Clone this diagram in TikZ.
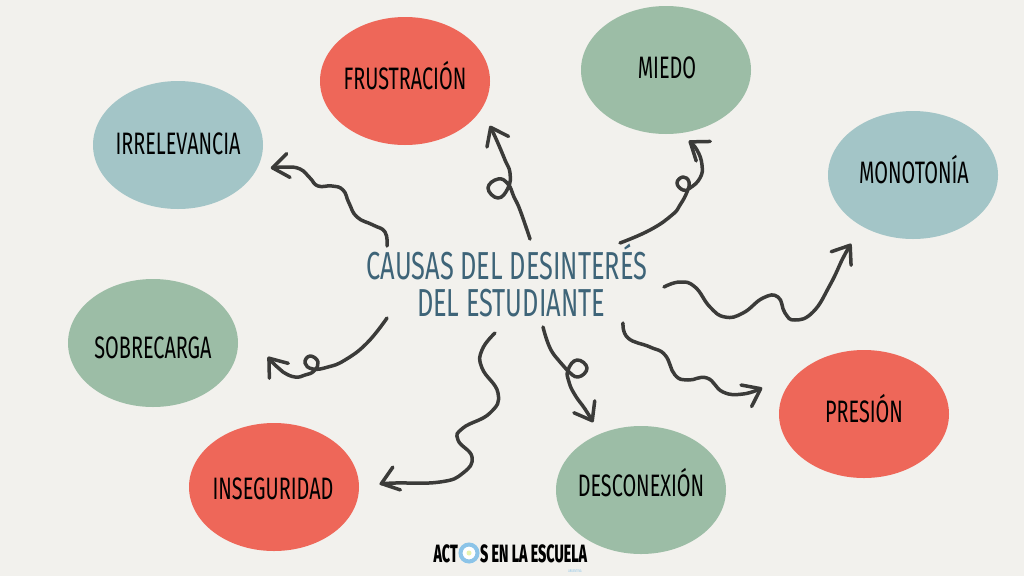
\documentclass[tikz,border=0pt]{standalone}
\usepackage{fontspec}
\usepackage{tikz}
\usetikzlibrary{arrows.meta}
\usetikzlibrary{shapes.geometric}
\newfontfamily\rotulo[FakeStretch=0.64]{Fira Sans}
\newfontfamily\titulo[FakeStretch=0.65]{Fira Sans}
\newfontfamily\marca[FakeStretch=0.57]{Fira Sans ExtraBold}
\definecolor{fondo}{HTML}{F2F1ED}
\definecolor{mrojo}{HTML}{EE6759}
\definecolor{mverde}{HTML}{9CBDA6}
\definecolor{mazul}{HTML}{A3C5C7}
\definecolor{mtitulo}{HTML}{3E6478}
\definecolor{mtrazo}{HTML}{3B3B39}
\definecolor{mcielo}{HTML}{8CC4E8}
\pgfdeclarearrow{name = Barba,
    setup code = {\pgfarrowssettipend{1.5pt}\pgfarrowssetlineend{0pt}\pgfarrowssetbackend{-16pt}},
    drawing code = {\pgfsetroundcap\pgfsetroundjoin\pgfsetdash{}{0pt}
        \pgfpathmoveto{\pgfpoint{-16pt}{12pt}}\pgfpathlineto{\pgfpointorigin}\pgfpathlineto{\pgfpoint{-16pt}{-12pt}}
        \pgfusepathqstroke}}
\tikzset{causa/.style = {ellipse, minimum width = 170pt, minimum height = 128pt, inner sep = 0}}
\tikzset{rotulo/.style = {anchor = base, inner sep = 0, text = black, font = \rotulo\fontsize{31}{31}\selectfont}}
\tikzset{linea/.style = {anchor = base, inner sep = 0, text = mtitulo, font = \titulo\fontsize{39}{39}\selectfont}}
\tikzset{flecha/.style = {mtrazo, line width = 3.5pt, line cap = round, line join = round, -{Barba}}}

\begin{document}
\begin{tikzpicture}[x = 1pt, y = -1pt]
    \fill [fondo] (0, 0) rectangle (1024, 576);

    \node [causa, fill = mrojo] (frustracion) at (405, 81) {};
    \node [causa, fill = mverde] (miedo) at (666, 70) {};
    \node [causa, fill = mazul] (monotonia) at (913, 175) {};
    \node [causa, fill = mrojo] (presion) at (864, 414) {};
    \node [causa, fill = mverde] (desconexion) at (641, 490) {};
    \node [causa, fill = mrojo] (inseguridad) at (274, 487) {};
    \node [causa, fill = mverde] (sobrecarga) at (153, 343) {};
    \node [causa, fill = mazul] (irrelevancia) at (178, 145) {};

    \node [rotulo] (t-frustracion) at (405, 89) {FRUSTRACIÓN};
    \node [rotulo] (t-miedo) at (667, 78) {MIEDO};
    \node [rotulo] (t-monotonia) at (914, 183) {MONOTONÍA};
    \node [rotulo] (t-presion) at (864, 422) {PRESIÓN};
    \node [rotulo] (t-desconexion) at (641, 496) {DESCONEXIÓN};
    \node [rotulo] (t-inseguridad) at (273, 499) {INSEGURIDAD};
    \node [rotulo] (t-sobrecarga) at (153, 358) {SOBRECARGA};
    \node [rotulo] (t-irrelevancia) at (178, 154) {IRRELEVANCIA};

    \node [linea] (causas) at (507, 279) {CAUSAS DEL DESINTERÉS};
    \node [linea] (estudiante) at (511, 316) {DEL ESTUDIANTE};

    \coordinate (s1) at (387, 246);
    \coordinate (e1) at (271, 168);
    \coordinate (s2) at (530, 239);
    \coordinate (e2) at (490, 126);
    \coordinate (s3) at (620, 243);
    \coordinate (e3) at (689, 141);
    \coordinate (s4) at (664, 287);
    \coordinate (e4) at (851, 244);
    \coordinate (s5) at (623, 323);
    \coordinate (e5) at (762, 388);
    \coordinate (s6) at (543, 327);
    \coordinate (e6) at (593, 422);
    \coordinate (s7) at (495, 333);
    \coordinate (e7) at (380, 484);
    \coordinate (s8) at (387, 318);
    \coordinate (e8) at (268, 357);

    \draw [flecha] plot [smooth, tension = 0.8] coordinates {(s1) (385, 232) (373, 225) (357, 217) (349, 203)
        (343, 190) (332, 186) (318, 186) (310, 178) (300, 169) (286, 167) (e1)};
    \draw [flecha] plot [smooth, tension = 0.8] coordinates {(s2) (520, 210) (514, 197) (508, 184) (498, 179)
        (488, 188) (498, 198) (508, 188) (510, 173) (505, 160) (497, 141) (e2)};
    \draw [flecha] plot [smooth, tension = 0.8] coordinates {(s3) (650, 230) (672, 215) (680, 205) (687, 192)
        (689, 182) (683, 177) (677, 183) (683, 190) (690, 188) (700, 178) (702, 165) (697, 150) (e3)};
    \draw [flecha] plot [smooth, tension = 0.8] coordinates {(s4) (680, 282) (695, 287) (710, 307) (725, 317)
        (743, 313) (763, 298) (778, 297) (785, 313) (795, 320) (813, 312) (830, 285) (843, 258) (e4)};
    \draw [flecha] plot [smooth, tension = 0.8] coordinates {(s5) (628, 338) (650, 347) (665, 355) (675, 375)
        (688, 380) (707, 378) (723, 392) (743, 394) (e5)};
    \draw [flecha] plot [smooth, tension = 0.8] coordinates {(s6) (550, 348) (560, 362) (567, 370) (578, 377)
        (587, 368) (577, 360) (568, 370) (569, 382) (575, 395) (585, 409) (e6)};
    \draw [flecha] plot [smooth, tension = 0.8] coordinates {(s7) (482, 350) (482, 368) (498, 393) (490, 413)
        (463, 428) (458, 440) (472, 457) (463, 473) (440, 482) (395, 483) (e7)};
    \draw [flecha] plot [smooth, tension = 0.8] coordinates {(s8) (367, 343) (345, 360) (328, 367) (313, 369)
        (305, 363) (310, 356) (318, 362) (314, 371) (305, 375) (295, 377) (283, 372) (275, 365) (e8)};

    % logo
    \node [anchor = base east, inner sep = 0, font = \marca\fontsize{25}{25}\selectfont] (actos) at (458, 562) {ACT};
    \node [anchor = base west, inner sep = 0, font = \marca\fontsize{25}{25}\selectfont] (escuela) at (480, 562) {S EN LA ESCUELA};
    \node [circle, draw = mcielo, line width = 4pt, fill = white, minimum size = 17pt, inner sep = 0] (sol) at (469, 553) {};
    \node [circle, fill = mcielo!40!yellow!50, minimum size = 5pt, inner sep = 0] (centro) at (469, 553) {};
    \node [text = mcielo, font = \rotulo\fontsize{4}{4}\selectfont, inner sep = 0] (pais) at (575, 571) {ARGENTINA};
\end{tikzpicture}
\end{document}
